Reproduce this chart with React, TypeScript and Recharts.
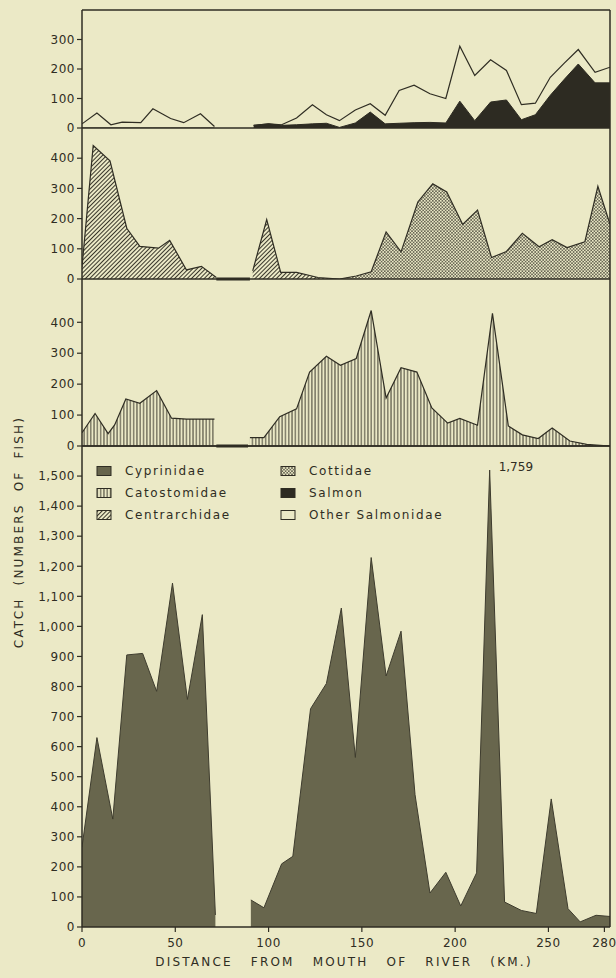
import React from "react";
import { AreaChart, Area, XAxis, YAxis, ReferenceLine } from "recharts";

const PAPER = "#ebe9c6";
const INK = "#2f2d23";
const FONT = "DejaVu Sans";
const X_MAX = 283;

// top panel: salmonids (null = river stretch not sampled)
const salmonidKm = [0, 8, 15.5, 21.5, 31.5, 38, 47.5, 54.5, 63.5, 71, 80, 92, 100, 107, 115, 123.5, 131, 138, 146.5, 154.5, 162.5, 170, 178, 186.5, 195, 202.5, 210.5, 219, 227.5, 235.5, 243, 251, 258.5, 266, 275, 283];
const salmonCatch = [0, 0, 0, 0, 0, 0, 0, 0, 0, 0, null, 9, 14, 9, 11, 14, 16, 2, 17, 54, 14, 16, 18, 19, 17, 91, 25, 88, 95, 28, 45, 111, 165, 217, 153, 153];
const otherSalmonidCatch = [14, 51, 11, 20, 18, 65, 32, 18, 48, 5, null, 0, 0, 2, 23, 65, 29, 23, 44, 28, 29, 111, 127, 97, 83, 186, 153, 143, 100, 51, 39, 61, 55, 49, 36, 53];

// second panel: sunfish and sculpins
const panel2Km = [0, 6, 15, 24, 31, 41, 47, 56, 64, 72, 80, 91.5, 99, 106.5, 115, 126.5, 138, 147, 155, 163, 171, 180, 188, 195.5, 204, 212, 219.5, 227.5, 236, 245, 252, 260, 269.5, 276.5, 283];
const centrarchidCatch = [40, 442, 391, 168, 108, 102, 128, 30, 42, 5, null, 27, 197, 22, 22, 5, 0, null, null, null, null, null, null, null, null, null, null, null, null, null, null, null, null, null, null];
const cottidCatch = [null, null, null, null, null, null, null, null, null, null, null, null, null, null, null, null, 0, 10, 24, 156, 90, 255, 315, 288, 181, 228, 71, 91, 151, 107, 130, 104, 123, 307, 181];

// third panel: suckers
const catostomidKm = [0, 7, 14, 17.5, 23.5, 31, 40, 48, 56, 64, 71, 80, 90, 97.5, 106, 115, 122, 131, 138.5, 147, 155, 163, 171, 179.5, 187.5, 196, 202.5, 212, 220, 228.5, 236, 244.5, 252, 261.5, 270.5, 283];
const catostomidCatch = [43, 105, 40, 68, 152, 138, 179, 90, 87, 87, 87, null, 27, 27, 95, 120, 239, 290, 261, 283, 438, 155, 253, 239, 123, 74, 89, 67, 429, 65, 36, 24, 58, 16, 5, 0];

// bottom panel: minnows (the spike at 218.5 km is drawn cut off and labelled)
const cyprinidKm = [0, 8, 16.5, 24, 32.5, 40, 48.5, 56.5, 64.5, 71.5, 80, 90.5, 97.5, 107, 113, 122.5, 131, 139, 146.5, 155, 163, 171, 178.5, 186.5, 195, 203, 211.5, 218.5, 226.5, 235.5, 243.5, 251.5, 260.5, 267, 275.5, 283];
const cyprinidCatch = [266, 630, 359, 905, 910, 784, 1144, 757, 1039, 40, null, 90, 64, 210, 235, 726, 810, 1061, 564, 1229, 835, 984, 440, 113, 182, 70, 180, 1520, 83, 55, 45, 426, 61, 17, 39, 35];
const cyprinidPeakKm = 218.5;
const cyprinidPeakLabel = "1,759";

const xTicks = [0, 50, 100, 150, 200, 250, 280];
const bottomTicks = [0, 100, 200, 300, 400, 500, 600, 700, 800, 900, 1000, 1100, 1200, 1300, 1400, 1500];

const legendItems = [
  { name: "Cyprinidae", fill: "#67654c", col: 0, row: 0 },
  { name: "Catostomidae", fill: "url(#vlines)", col: 0, row: 1 },
  { name: "Centrarchidae", fill: "url(#hatch)", col: 0, row: 2 },
  { name: "Cottidae", fill: "url(#dots)", col: 1, row: 0 },
  { name: "Salmon", fill: "#2d2b22", col: 1, row: 1 },
  { name: "Other Salmonidae", fill: PAPER, col: 1, row: 2 },
];

const salmonidData = salmonidKm.map((km, i) => ({ km, salmon: salmonCatch[i], other: otherSalmonidCatch[i] }));
const panel2Data = panel2Km.map((km, i) => ({ km, centrarchid: centrarchidCatch[i], cottid: cottidCatch[i] }));
const catostomidData = catostomidKm.map((km, i) => ({ km, catostomid: catostomidCatch[i] }));
const cyprinidData = cyprinidKm.map((km, i) => ({ km, cyprinid: cyprinidCatch[i] }));

const tickStyle = { fill: INK, fontSize: 12, fontFamily: FONT, letterSpacing: 0.5 };
const axisLine = { stroke: INK, strokeWidth: 1.5 };
const margin = { top: 8, right: 6, bottom: 8, left: 0 };

const yAxisProps = {
  type: "number" as const,
  width: 82,
  tickSize: 5,
  tickMargin: 2,
  interval: 0 as const,
  axisLine,
  tickLine: { stroke: INK, strokeWidth: 1.2 },
  tick: tickStyle,
  allowDataOverflow: true,
};

const frame = () => [
  <ReferenceLine key="b" y={0} stroke={INK} strokeWidth={1.5} />,
  <ReferenceLine key="r" x={X_MAX} stroke={INK} strokeWidth={1.5} />,
];

export default function App() {
  return (
    <div
      style={{
        position: "absolute",
        left: 0,
        top: 0,
        width: 616,
        height: 978,
        background: PAPER,
        overflow: "hidden",
        fontFamily: FONT,
      }}
    >
      {/* salmonids */}
      <div style={{ position: "absolute", left: 0, top: 2 }}>
        <AreaChart width={616} height={134} data={salmonidData} margin={margin}>
          <XAxis type="number" dataKey="km" domain={[0, X_MAX]} hide allowDataOverflow />
          <YAxis {...yAxisProps} domain={[0, 400]} ticks={[0, 100, 200, 300]} />
          {frame()}
          <ReferenceLine y={400} stroke={INK} strokeWidth={1.5} />
          <Area type="linear" dataKey="salmon" stackId="s" fill="#2d2b22" fillOpacity={1} stroke="#2d2b22" strokeWidth={1} dot={false} activeDot={false} isAnimationActive={false} />
          <Area type="linear" dataKey="other" stackId="s" fill={PAPER} fillOpacity={0} stroke={INK} strokeWidth={1.2} dot={false} activeDot={false} isAnimationActive={false} />
        </AreaChart>
      </div>

      {/* centrarchids + cottids */}
      <div style={{ position: "absolute", left: 0, top: 120 }}>
        <AreaChart width={616} height={167} data={panel2Data} margin={margin}>
          <XAxis type="number" dataKey="km" domain={[0, X_MAX]} hide allowDataOverflow />
          <YAxis {...yAxisProps} domain={[0, 500]} ticks={[0, 100, 200, 300, 400]} />
          <Area type="linear" dataKey="centrarchid" fill="url(#hatch)" fillOpacity={1} stroke={INK} strokeWidth={1.2} dot={false} activeDot={false} isAnimationActive={false} />
          <Area type="linear" dataKey="cottid" fill="url(#dots)" fillOpacity={1} stroke={INK} strokeWidth={1.2} dot={false} activeDot={false} isAnimationActive={false} />
          {frame()}
          <ReferenceLine segment={[{ x: 72, y: 0 }, { x: 90, y: 0 }]} stroke={INK} strokeWidth={3} />
        </AreaChart>
      </div>

      {/* catostomids */}
      <div style={{ position: "absolute", left: 0, top: 271 }}>
        <AreaChart width={616} height={183} data={catostomidData} margin={margin}>
          <XAxis type="number" dataKey="km" domain={[0, X_MAX]} hide allowDataOverflow />
          <YAxis {...yAxisProps} domain={[0, 540]} ticks={[0, 100, 200, 300, 400]} />
          <Area type="linear" dataKey="catostomid" fill="url(#vlines)" fillOpacity={1} stroke={INK} strokeWidth={1.2} dot={false} activeDot={false} isAnimationActive={false} />
          {frame()}
          <ReferenceLine segment={[{ x: 72, y: 0 }, { x: 89, y: 0 }]} stroke={INK} strokeWidth={3} />
        </AreaChart>
      </div>

      {/* cyprinids */}
      <div style={{ position: "absolute", left: 0, top: 438 }}>
        <AreaChart width={616} height={519} data={cyprinidData} margin={{ top: 8, right: 6, bottom: 0, left: 0 }}>
          <XAxis
            type="number"
            dataKey="km"
            domain={[0, X_MAX]}
            ticks={xTicks}
            interval={0}
            height={30}
            tickSize={5}
            tickMargin={6}
            axisLine={axisLine}
            tickLine={{ stroke: INK, strokeWidth: 1.2 }}
            tick={tickStyle}
            allowDataOverflow
          />
          <YAxis
            {...yAxisProps}
            domain={[0, 1600]}
            ticks={bottomTicks}
            tickFormatter={(v: number) => v.toLocaleString("en-US")}
          />
          <Area type="linear" dataKey="cyprinid" fill="#68664d" fillOpacity={1} stroke="#3e3c2e" strokeWidth={1} dot={false} activeDot={false} isAnimationActive={false} />
          <ReferenceLine x={X_MAX} stroke={INK} strokeWidth={1.5} />
          <ReferenceLine y={1600} stroke={INK} strokeWidth={1.5} />
        </AreaChart>
      </div>

      {/* titles, legend, patterns */}
      <svg
        width={616}
        height={978}
        style={{ position: "absolute", left: 0, top: 0, pointerEvents: "none" }}
      >
        <defs>
          <pattern id="hatch" width="3" height="3" patternUnits="userSpaceOnUse" patternTransform="rotate(45)">
            <rect width="3" height="3" fill={PAPER} />
            <line x1="1.5" y1="0" x2="1.5" y2="3" stroke={INK} strokeWidth="0.95" />
          </pattern>
          <pattern id="vlines" width="3.3" height="6" patternUnits="userSpaceOnUse">
            <rect width="3.3" height="6" fill={PAPER} />
            <line x1="1.65" y1="0" x2="1.65" y2="6" stroke={INK} strokeWidth="0.9" />
          </pattern>
          <pattern id="dots" width="3.2" height="3.2" patternUnits="userSpaceOnUse">
            <rect width="3.2" height="3.2" fill={PAPER} />
            <circle cx="0.8" cy="0.8" r="0.75" fill={INK} />
            <circle cx="2.4" cy="2.4" r="0.75" fill={INK} />
          </pattern>
        </defs>

        <text
          transform="translate(23,532) rotate(-90)"
          textAnchor="middle"
          fontSize={12}
          fill={INK}
          fontFamily={FONT}
          letterSpacing={2.2}
          wordSpacing={6}
        >
          CATCH (NUMBERS OF FISH)
        </text>
        <text
          x={344}
          y={966}
          textAnchor="middle"
          fontSize={12}
          fill={INK}
          fontFamily={FONT}
          letterSpacing={2.2}
          wordSpacing={12}
        >
          DISTANCE FROM MOUTH OF RIVER (KM.)
        </text>

        <text x={82 + (cyprinidPeakKm * 528) / X_MAX + 9} y={471} fontSize={12} fill={INK} fontFamily={FONT}>
          {cyprinidPeakLabel}
        </text>

        {legendItems.map((it) => {
          const sx = it.col === 0 ? 97 : 281;
          const cy = 471 + it.row * 22;
          return (
            <g key={it.name}>
              <rect x={sx} y={cy - 4.5} width={14} height={9} fill={it.fill} stroke={INK} strokeWidth={1} />
              <text x={sx + 28} y={cy} dominantBaseline="central" fontSize={12} fill={INK} fontFamily={FONT} letterSpacing={1.6}>
                {it.name}
              </text>
            </g>
          );
        })}
      </svg>
    </div>
  );
}
